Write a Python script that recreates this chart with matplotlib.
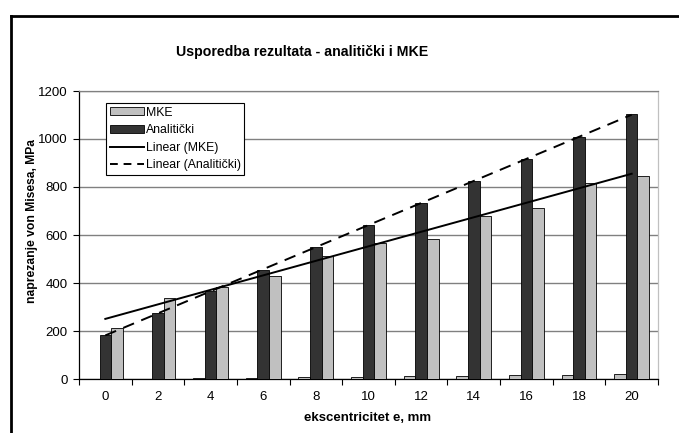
import numpy as np
import matplotlib.pyplot as plt
from matplotlib.lines import Line2D
from matplotlib.patches import Patch

plt.rcParams["font.family"] = ["Liberation Sans", "DejaVu Sans"]

# podaci
ekscentricitet = [0, 2, 4, 6, 8, 10, 12, 14, 16, 18, 20]
mke = [212, 337, 383, 431, 511, 566, 585, 679, 714, 818, 845]
analiticki = [182, 274, 367, 456, 550, 640, 733, 825, 916, 1008, 1104]
y_ticks = [0, 200, 400, 600, 800, 1000, 1200]

W, H = 679, 433
fig = plt.figure(figsize=(W / 100, H / 100), dpi=100)
ax = fig.add_axes([79 / W, 1 - 379 / H, (658 - 79) / W, (379 - 91) / H])

x = np.arange(len(ekscentricitet))
w = 0.22

# stupci (serija e, analitički, MKE)
ax.bar(x - w, ekscentricitet, w, color="#c0c0c0", edgecolor="black", linewidth=0.6, zorder=3)
ax.bar(x, analiticki, w, color="#333333", edgecolor="black", linewidth=0.6, zorder=3)
ax.bar(x + w, mke, w, color="#c0c0c0", edgecolor="black", linewidth=0.6, zorder=3)

# linearni trend
k1, n1 = np.polyfit(x, mke, 1)
k2, n2 = np.polyfit(x, analiticki, 1)
ax.plot(x, k1 * x + n1, color="black", linewidth=1.4, zorder=4)
ax.plot(x, k2 * x + n2, color="black", linewidth=1.4, dashes=(6, 4), zorder=4)

ax.set_xlim(-0.5, len(x) - 0.5)
ax.set_ylim(0, 1200)
ax.set_yticks(y_ticks)
ax.set_xticks(x)
ax.set_xticklabels([str(v) for v in ekscentricitet])
ax.set_xticks(np.arange(-0.5, len(x), 1), minor=True)
ax.tick_params(axis="x", which="major", length=0, pad=9, labelsize=9.5)
ax.tick_params(axis="x", which="minor", length=4, width=0.8, direction="out")
ax.tick_params(axis="y", length=4, width=0.8, direction="out", pad=4, labelsize=9.5)

ax.grid(axis="y", color="#808080", linewidth=1, zorder=0)
ax.spines["left"].set_color("black")
ax.spines["bottom"].set_color("black")
ax.spines["top"].set_color("#808080")
ax.spines["right"].set_color("#c0c0c0")
for s in ax.spines.values():
    s.set_linewidth(0.9)

ax.set_xlabel("ekscentricitet e, mm", fontsize=9.5, fontweight="bold")
ax.xaxis.set_label_coords((368 - 79) / (658 - 79), -(418 - 379) / (379 - 91))
ax.set_ylabel("naprezanje von Misesa, MPa", fontsize=8.7, fontweight="bold")
ax.yaxis.set_label_coords(-(79 - 32) / (658 - 79), (379 - 221) / (379 - 91))
ax.xaxis.label.set_va("center")
ax.yaxis.label.set_va("center")

fig.text(302 / W, 1 - 52 / H, "Usporedba rezultata - analitički i MKE",
         fontsize=10.2, fontweight="bold", ha="center", va="center")

handles = [
    Patch(facecolor="#c0c0c0", edgecolor="black", linewidth=0.6),
    Patch(facecolor="#333333", edgecolor="black", linewidth=0.6),
    Line2D([], [], color="black", linewidth=1.4),
    Line2D([], [], color="black", linewidth=1.4, dashes=(4, 3)),
]
labels = ["MKE", "Analitički", "Linear (MKE)", "Linear (Analitički)"]
leg = ax.legend(handles, labels, loc="upper left",
                bbox_to_anchor=((106 - 79) / (658 - 79), (379 - 103) / (379 - 91)),
                fontsize=8.8, frameon=True, fancybox=False, framealpha=1,
                edgecolor="black", borderpad=0.3, labelspacing=0.45,
                handlelength=2.8, handleheight=0.6, handletextpad=0.15,
                borderaxespad=0)
leg.get_frame().set_linewidth(0.8)

# okvir grafikona
fig.add_artist(Line2D([11 / W, 11 / W], [0, 1 - 16 / H], color="black", linewidth=2))
fig.add_artist(Line2D([11 / W, 1], [1 - 16 / H, 1 - 16 / H], color="black", linewidth=2))

fig.savefig("out.png", dpi=100)
